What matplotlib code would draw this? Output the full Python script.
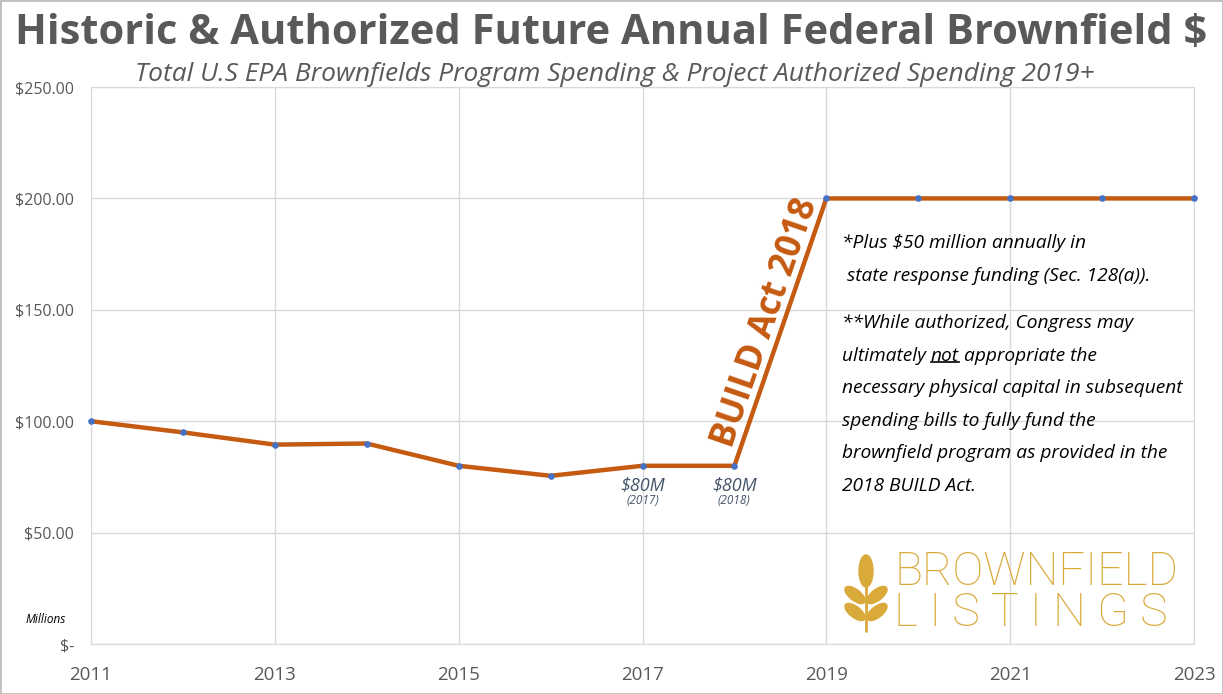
import matplotlib.pyplot as plt
from matplotlib.patches import Ellipse
from matplotlib.lines import Line2D

years = [2011, 2012, 2013, 2014, 2015, 2016, 2017, 2018, 2019, 2020, 2021, 2022, 2023]
spending = [100, 95, 89.5, 90, 80, 75.5, 80, 80, 200, 200, 200, 200, 200]
year_ticks = [2011, 2013, 2015, 2017, 2019, 2021, 2023]
y_ticks = [0, 50, 100, 150, 200, 250]
y_labels = ["$-", "$50.00", "$100.00", "$150.00", "$200.00", "$250.00"]
callouts = [(2017, 80, "$80M", "(2017)"), (2018, 80, "$80M", "(2018)")]

note1 = ["*Plus $50 million annually in", " state response funding (Sec. 128(a))."]
note2 = ["**While authorized, Congress may",
         None,
         "necessary physical capital in subsequent",
         "spending bills to fully fund the",
         "brownfield program as provided in the",
         "2018 BUILD Act."]

FONT = "Open Sans"
GREY = "#595959"
ORANGE = "#c55a11"
GOLD = "#d9a93a"
NOTE_FS = 13.8

fig = plt.figure(figsize=(12.23, 6.94), dpi=100)
ax = fig.add_axes([0.0744, 0.072, 0.9019, 0.8026])

ax.plot(years, spending, color=ORANGE, lw=3.2, zorder=3, solid_joinstyle="round")
ax.scatter(years, spending, s=14, color="#4472c4", zorder=4, clip_on=False)

ax.set_xlim(2011, 2023)
ax.set_ylim(0, 250)
ax.set_xticks(year_ticks)
ax.set_xticklabels([str(y) for y in year_ticks], fontsize=13.5, color=GREY, family=FONT)
ax.set_yticks(y_ticks)
ax.set_yticklabels(y_labels, fontsize=11.5, color=GREY, family=FONT)
ax.tick_params(length=0, pad=12)
ax.tick_params(axis="x", pad=16)
ax.grid(True, color="#d9d9d9", lw=1)
ax.set_axisbelow(True)
for s in ax.spines.values():
    s.set_color("#d9d9d9")

# title + subtitle
fig.text(0.5, 0.952, "Historic & Authorized Future Annual Federal Brownfield $", ha="center", va="center",
         fontsize=30, fontweight="bold", color=GREY, family=FONT)
fig.text(0.503, 0.893, "Total U.S EPA Brownfields Program Spending & Project Authorized Spending 2019+",
         ha="center", va="center", fontsize=19, style="italic", color=GREY, family=FONT)

fig.text(0.037, 0.107, "Millions", ha="center", va="center", fontsize=8.5, style="italic",
         color="black", family=FONT)

# $80M callouts
for x, y, lab, sub in callouts:
    ax.annotate(lab, (x, y), xytext=(0, -14), textcoords="offset points", ha="center", va="center",
                fontsize=13, style="italic", color="#44546a", family=FONT)
    ax.annotate(sub, (x, y), xytext=(0, -25), textcoords="offset points", ha="center", va="center",
                fontsize=8.5, style="italic", color="#44546a", family=FONT)

# BUILD Act label along the jump
ax.text(2018.34, 144, "BUILD Act 2018", rotation=71, ha="center", va="center", fontsize=25,
        fontweight="bold", color=ORANGE, family=FONT, rotation_mode="anchor")

# notes
tx = 2019.17
y0 = 180
for i, line in enumerate(note1):
    ax.text(tx, y0 - i * 14.6, line, fontsize=NOTE_FS, style="italic", color="black", family=FONT, va="center")
y1 = 144
fig.canvas.draw()
renderer = fig.canvas.get_renderer()
W, H = fig.get_figwidth() * fig.dpi, fig.get_figheight() * fig.dpi
for i, line in enumerate(note2):
    yy = y1 - i * 14.6
    if line is None:
        t1 = ax.text(tx, yy, "ultimately ", fontsize=NOTE_FS, style="italic", color="black", family=FONT, va="center")
        bb = t1.get_window_extent(renderer)
        t2 = ax.text(bb.x1, bb.y0 + bb.height / 2, "not", fontsize=NOTE_FS, style="italic", color="black",
                     family=FONT, va="center", transform=None)
        bb2 = t2.get_window_extent(renderer)
        fig.add_artist(Line2D([bb2.x0 / W, bb2.x1 / W], [(bb2.y0 + 3) / H] * 2,
                              transform=fig.transFigure, color="black", lw=1.2))
        ax.text(bb2.x1, bb.y0 + bb.height / 2, " appropriate the", fontsize=NOTE_FS, style="italic", color="black",
                family=FONT, va="center", transform=None)
    else:
        ax.text(tx, yy, line, fontsize=NOTE_FS, style="italic", color="black", family=FONT, va="center")

# logo text
fig.text(0.731, 0.176, "BROWNFIELD", fontsize=33.5, color=GOLD, family="Roboto", fontweight="light", va="center")
fig.text(0.731, 0.117, "L I S T I N G S", fontsize=33.5, color=GOLD, family="Roboto", fontweight="light", va="center")

# logo sprig, drawn in pixel units on a small equal-aspect axes
lg = fig.add_axes([835 / 1223, 60 / 694, 62 / 1223, 90 / 694])
lg.set_xlim(835, 897)
lg.set_ylim(694 - 60, 694 - 150)
lg.set_aspect("equal")
lg.axis("off")
lg.plot([866, 866], [585, 631], color=GOLD, lw=2, solid_capstyle="round")
lg.add_patch(Ellipse((866, 571), 14, 32, color=GOLD))
for cy in [595, 612]:
    lg.add_patch(Ellipse((855, cy), 24, 11, angle=38, color=GOLD))
    lg.add_patch(Ellipse((877, cy), 24, 11, angle=-38, color=GOLD))

fig.add_artist(plt.Rectangle((0, 0), 1, 1, transform=fig.transFigure, fill=False, ec="#bfbfbf", lw=2))

fig.savefig("out.png", dpi=100)
